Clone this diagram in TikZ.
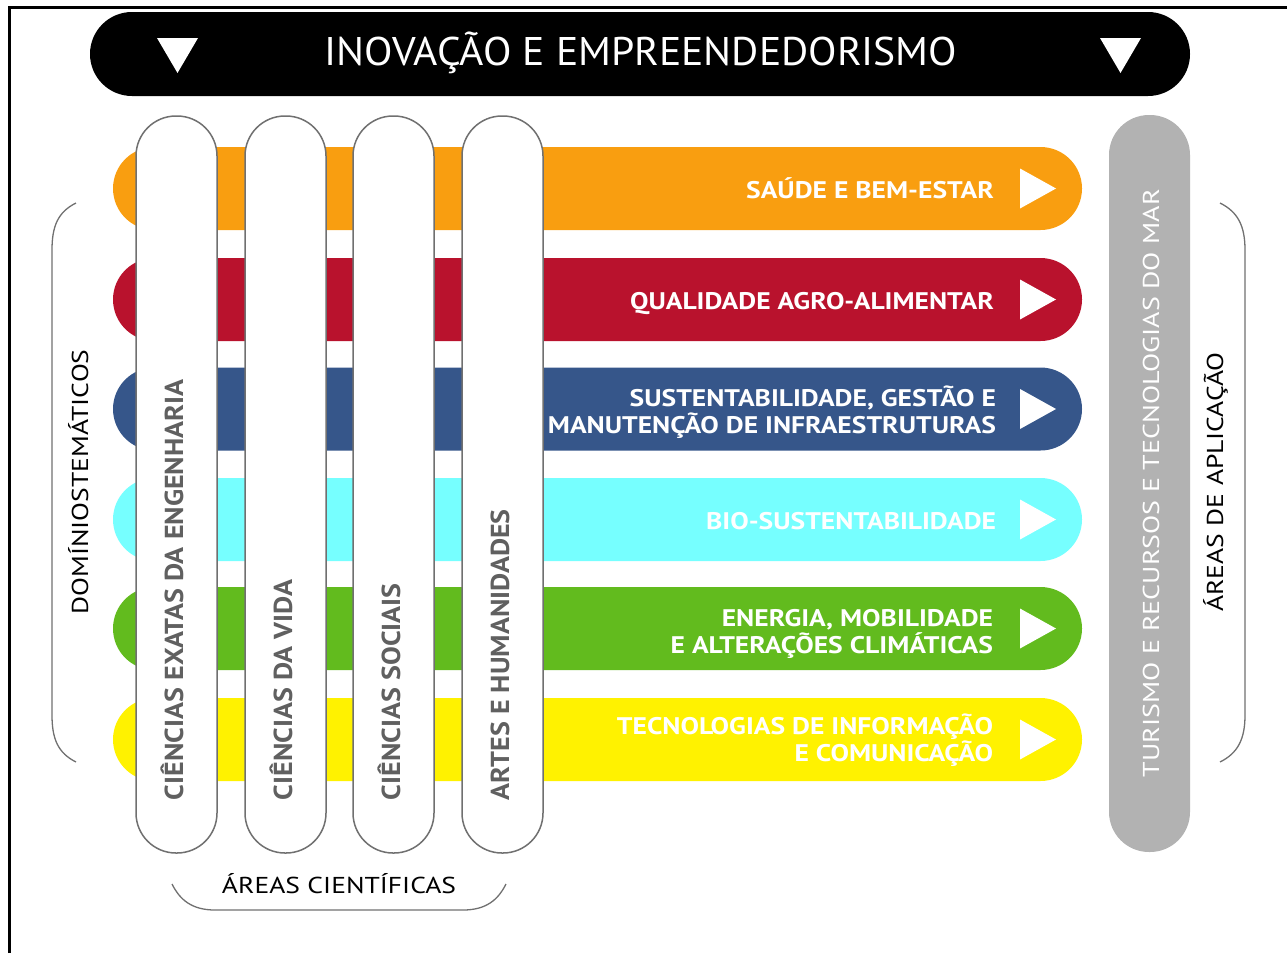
\documentclass[tikz,border=0pt]{standalone}
\usepackage{fontspec}
\setmainfont{PT Sans}
\newfontfamily\topfont{PT Sans}[FakeStretch=1.04]
\newfontfamily\bandfont{PT Sans}[FakeStretch=1.15]
\newfontfamily\colfont{PT Sans}[FakeStretch=1.08]
\newfontfamily\marfont{PT Sans}[FakeStretch=1.22]
\newfontfamily\sidefont{PT Sans}[FakeStretch=1.2]
\usetikzlibrary{positioning}

\definecolor{cSaude}{RGB}{249,158,16}
\definecolor{cQuali}{RGB}{185,18,45}
\definecolor{cSust}{RGB}{54,86,138}
\definecolor{cBio}{RGB}{118,255,255}
\definecolor{cEnerg}{RGB}{98,187,30}
\definecolor{cTic}{RGB}{255,242,0}
\definecolor{cMar}{RGB}{178,178,178}
\definecolor{cLine}{RGB}{112,112,112}
\definecolor{cColTxt}{RGB}{96,96,96}

\begin{document}
\begin{tikzpicture}[x=1pt, y=-1pt,
	band/.style={rounded corners=41.5pt},
	bandtxt/.style={text=white, anchor=base east, align=right, font=\bandfont\bfseries\fontsize{24}{27}\selectfont},
	play/.style={fill=white},
	column/.style={draw=cLine, line width=1.5pt, fill=white, minimum width=81pt, minimum height=737pt, rounded corners=40pt},
	coltxt/.style={rotate=90, anchor=base west, text=cColTxt, font=\colfont\bfseries\fontsize{26}{26}\selectfont},
	brace/.style={draw=cLine, line width=1.3pt},
	side/.style={rotate=90, anchor=base, font=\sidefont\fontsize{23}{23}\selectfont}]
				\tikzstyle{every node}=[inner sep=0pt, outer sep=0pt]
				\useasboundingbox (0,0) rectangle (1287,953);

				% frame
				\draw[line width=3pt] (9,953) -- (9,7) -- (1287,7);

				% top banner
				\fill[black, rounded corners=42pt] (90,12) rectangle (1190,96);
				\node[text=white, font=\topfont\fontsize{40}{40}\selectfont] (IE) at (641,53) {INOVAÇÃO E EMPREENDEDORISMO};
				\fill[white] (157,38) -- (198,38) -- (177.5,73) -- cycle;
				\fill[white] (1100,38) -- (1141,38) -- (1120.5,73) -- cycle;

				% thematic bands
				\foreach \yc/\col in {188.5/cSaude, 299.5/cQuali, 409/cSust, 519.5/cBio, 628.5/cEnerg, 739.5/cTic} {
					\fill[\col, band] (113,\yc-41.5) rectangle (1082,\yc+41.5);
					\fill[play] (1020,\yc-20) -- (1056,\yc) -- (1020,\yc+20) -- cycle;
				}
				\node[bandtxt] (D1) at (994,198) {SAÚDE E BEM-ESTAR};
				\node[bandtxt] (D2) at (994,309) {QUALIDADE AGRO-ALIMENTAR};
				\node[bandtxt] (D3) at (996,433) {SUSTENTABILIDADE, GESTÃO E\\MANUTENÇÃO DE INFRAESTRUTURAS};
				\node[bandtxt] (D4) at (996,529) {BIO-SUSTENTABILIDADE};
				\node[bandtxt] (D5) at (993,653) {ENERGIA, MOBILIDADE\\E ALTERAÇÕES CLIMÁTICAS};
				\node[bandtxt] (D6) at (993,761) {TECNOLOGIAS DE INFORMAÇÃO\\E COMUNICAÇÃO};

				% scientific areas
				\node[column] (C1) at (176.5,484.5) {};
				\node[column] (C2) at (285.5,484.5) {};
				\node[column] (C3) at (393.5,484.5) {};
				\node[column] (C4) at (502.5,484.5) {};
				\node[coltxt] (C1t) at (183,800) {CIÊNCIAS EXATAS DA ENGENHARIA};
				\node[coltxt] (C2t) at (292,800) {CIÊNCIAS DA VIDA};
				\node[coltxt] (C3t) at (400,800) {CIÊNCIAS SOCIAIS};
				\node[coltxt] (C4t) at (509,800) {ARTES E HUMANIDADES};

				% application area
				\node[fill=cMar, minimum width=81pt, minimum height=737pt, rounded corners=40pt] (M) at (1149.5,483.5) {};
				\node[rotate=90, anchor=base west, text=white, font=\marfont\fontsize{23}{23}\selectfont] (Mt) at (1159,777) {TURISMO E RECURSOS E TECNOLOGIAS DO MAR};

				% braces
				\draw[brace] (76,203) .. controls (58,212) and (52,226) .. (52,250) -- (52,715) .. controls (52,739) and (58,753) .. (76,762);
				\draw[brace] (1220,203) .. controls (1238,212) and (1245,226) .. (1245,250) -- (1245,715) .. controls (1245,739) and (1238,753) .. (1220,762);
				\draw[brace] (172,884) .. controls (180,900) and (192,910) .. (215,910) -- (463,910) .. controls (486,910) and (498,900) .. (506,884);
				\node[side] (L) at (88,482) {DOMÍNIOSTEMÁTICOS};
				\node[side] (R) at (1223,482) {ÁREAS DE APLICAÇÃO};
				\node[anchor=base, font=\sidefont\fontsize{23}{23}\selectfont] (B) at (339,893) {ÁREAS CIENTÍFICAS};
			\end{tikzpicture}
\end{document}
